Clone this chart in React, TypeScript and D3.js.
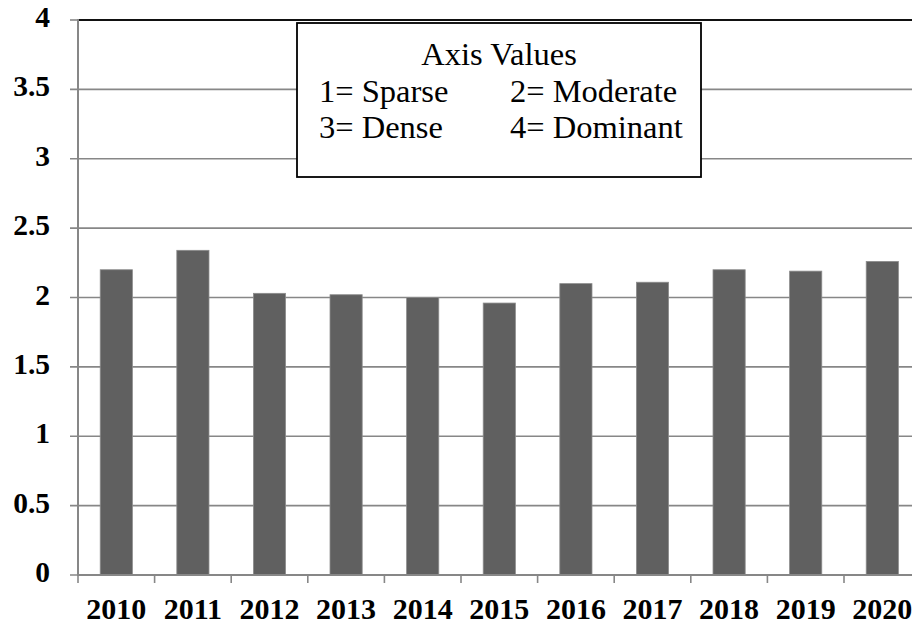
import React from "react";
import * as d3 from "d3";

const categories = ["2010", "2011", "2012", "2013", "2014", "2015", "2016", "2017", "2018", "2019", "2020"];
const values = [2.2, 2.34, 2.03, 2.02, 2.0, 1.96, 2.1, 2.11, 2.2, 2.19, 2.26];
const yTicks = [0, 0.5, 1, 1.5, 2, 2.5, 3, 3.5, 4];
const legendTitle = "Axis Values";
const legendRows = [
  ["1= Sparse", "2= Moderate"],
  ["3= Dense", "4= Dominant"],
];

const W = 912;
const H = 626;
const left = 78;
const step = 76.6;
const plotRight = left + step * categories.length;
const top = 20;
const bottom = 575;

const serif = '"Liberation Serif", "Times New Roman", Tinos, "DejaVu Serif", serif';

export default function App() {
  const x = d3
    .scaleBand<string>()
    .domain(categories)
    .range([left, plotRight])
    .paddingInner(0.58)
    .paddingOuter(0.29);
  const y = d3.scaleLinear().domain([0, 4]).range([bottom, top]);
  const boundary = d3.scaleLinear().domain([0, categories.length]).range([left, plotRight]);
  const yText: React.CSSProperties = { fontFamily: serif, fontWeight: 700, fontSize: "29.5px" };
  const xText: React.CSSProperties = { fontFamily: serif, fontWeight: 700, fontSize: "30px" };
  const legText: React.CSSProperties = { fontFamily: serif, fontWeight: 400, fontSize: "32.5px" };

  return (
    <svg
      width={W}
      height={H}
      style={{ position: "absolute", left: 0, top: 0, background: "#fff" }}
    >
      {yTicks.map((t) => (
        <g key={t}>
          <line x1={70} x2={t === 4 ? left : plotRight} y1={y(t)} y2={y(t)} stroke="#878787" strokeWidth={1.6} />
          <text x={50} y={y(t) + 7} textAnchor="end" style={yText} fill="#000">
            {String(t)}
          </text>
        </g>
      ))}
      <line x1={left} x2={plotRight} y1={y(4)} y2={y(4)} stroke="#111" strokeWidth={2} />
      {categories.map((c, i) => (
        <rect
          key={c}
          x={x(c)}
          y={y(values[i])}
          width={x.bandwidth()}
          height={y(0) - y(values[i])}
          fill="#606060"
          stroke="#8c8c8c"
          strokeWidth={0.8}
        />
      ))}
      <line x1={left} x2={left} y1={top - 1} y2={bottom + 1} stroke="#878787" strokeWidth={2} />
      <line x1={left} x2={plotRight} y1={bottom} y2={bottom} stroke="#878787" strokeWidth={2} />
      {d3.range(categories.length + 1).map((i) => (
        <line
          key={i}
          x1={boundary(i)}
          x2={boundary(i)}
          y1={bottom}
          y2={bottom + 8}
          stroke="#878787"
          strokeWidth={1.6}
        />
      ))}
      {categories.map((c) => (
        <text
          key={c}
          x={(x(c) as number) + x.bandwidth() / 2}
          y={619}
          textAnchor="middle"
          style={xText}
          fill="#000"
        >
          {c}
        </text>
      ))}
      <rect x={297} y={23} width={404} height={154} fill="#fff" stroke="#000" strokeWidth={1.8} />
      <text x={499} y={65} textAnchor="middle" style={legText} fill="#000">
        {legendTitle}
      </text>
      {legendRows.map((row, r) => (
        <g key={r}>
          <text x={319} y={101.5 + r * 36.5} style={legText} fill="#000">
            {row[0]}
          </text>
          <text x={510} y={101.5 + r * 36.5} style={legText} fill="#000">
            {row[1]}
          </text>
        </g>
      ))}
    </svg>
  );
}
